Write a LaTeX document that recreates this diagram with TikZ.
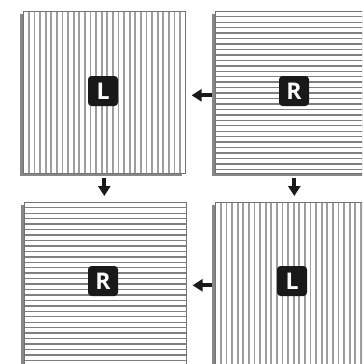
\documentclass[tikz,border=0pt]{standalone}
\usepackage{fontspec}
\setmainfont{Open Sans}
\usetikzlibrary{arrows.meta,shadows,calc}
\begin{document}
\begin{tikzpicture}[x=1pt,y=-1pt,
  stripe/.style={draw=black!38, line width=1.7pt},
  hstripe/.style={draw=black!50, line width=1.4pt},
  panel/.style={rectangle, draw=black!55, line width=0.6pt, fill=white, inner sep=0pt, anchor=north west,
    general shadow={shadow xshift=-3pt, shadow yshift=-3pt, fill=black!47}},
  vstripes/.style={path picture={
    \foreach \i in {1,...,30}
      \draw[stripe] ([xshift=\i*5.6pt]path picture bounding box.north west) -- ([xshift=\i*5.6pt]path picture bounding box.south west);}},
  hstripes/.style={path picture={
    \foreach \i in {1,...,32}
      \draw[hstripe] ([yshift=-\i*5.45pt]path picture bounding box.north west) -- ([yshift=-\i*5.45pt]path picture bounding box.north east);}},
  tag/.style={fill=black!90, text=white, rounded corners=3.5pt, minimum size=30pt, inner sep=0pt,
    font=\bfseries\fontsize{23}{23}\selectfont},
  flow/.style={-{Triangle[width=12pt,length=10pt]}, line width=4.3pt, black!90}
]
\useasboundingbox (0,0) rectangle (362,364);
\clip (0,0) rectangle (362,364);
\node[panel, vstripes, minimum width=162pt, minimum height=162pt] (tl) at (23,11) {};
\node[panel, hstripes, minimum width=158pt, minimum height=162pt] (tr) at (215,11) {};
\node[panel, hstripes, minimum width=162pt, minimum height=166pt] (bl) at (24,202) {};
\node[panel, vstripes, minimum width=158pt, minimum height=166pt] (br) at (215,202) {};
\node[tag] (ltl) at (103,91) {L};
\node[tag] (ltr) at (294,91) {R};
\node[tag] (lbl) at (103,281) {R};
\node[tag] (lbr) at (292,281) {L};
\draw[flow, shorten <=3pt, shorten >=6pt] ($(tr.west)+(0,3)$) -- ($(tr.west -| tl.east)+(0,3)$);
\draw[flow, shorten <=3pt, shorten >=6pt] (br.west) -- (br.west -| bl.east);
\draw[flow, shorten <=4pt, shorten >=6pt] (tl.south) -- (tl.south |- bl.north);
\draw[flow, shorten <=4pt, shorten >=6pt] (tr.south) -- (tr.south |- br.north);
\end{tikzpicture}
\end{document}
